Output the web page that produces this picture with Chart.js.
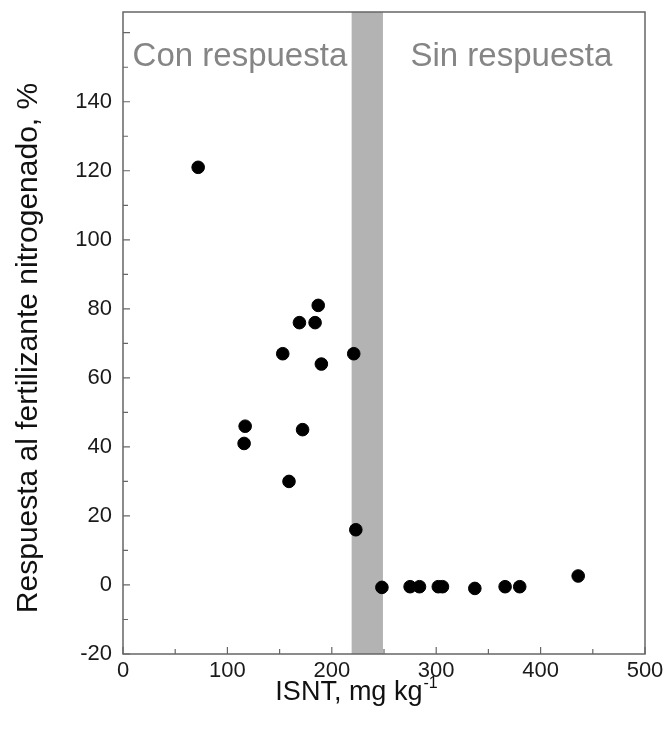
<!DOCTYPE html>
<html>
<head>
<meta charset="utf-8">
<script src="https://cdn.jsdelivr.net/npm/chart.js@4.4.0/dist/chart.umd.min.js"></script>
<style>
  html, body { margin: 0; padding: 0; background: #fff; }
  #wrap { width: 664px; height: 729px; }
</style>
</head>
<body>
<div id="wrap"><canvas id="myChart" width="664" height="729"></canvas></div>
<script>
// ISNT (mg/kg) vs response to N fertilizer (%)
const isnt = [72, 116, 117, 153, 159, 169, 172, 184, 187, 190, 221, 223,
              248, 275, 284, 302, 306, 337, 366, 380, 436];
const respuesta = [121, 41, 46, 67, 30, 76, 45, 76, 81, 64, 67, 16,
                   -0.7, -0.5, -0.5, -0.5, -0.5, -1, -0.5, -0.5, 2.6];
const xTicks = [0, 100, 200, 300, 400, 500];
const yTicks = [-20, 0, 20, 40, 60, 80, 100, 120, 140];
const bandFrom = 219, bandTo = 249;
const zoneLabels = ["Con respuesta", "Sin respuesta"];
const zoneCenters = [112, 372];

const FONT = "'Liberation Sans', Arial, sans-serif";

// shaded band, frame, inward ticks and zone labels
const decor = {
  id: "decor",
  beforeDatasetsDraw(chart) {
    const { ctx, chartArea: a, scales: { x, y } } = chart;
    ctx.save();
    ctx.fillStyle = "#b3b3b3";
    const x0 = x.getPixelForValue(bandFrom), x1 = x.getPixelForValue(bandTo);
    ctx.fillRect(x0, a.top, x1 - x0, a.bottom - a.top);

    ctx.strokeStyle = "#666";
    ctx.lineWidth = 1.5;
    ctx.strokeRect(a.left, a.top, a.right - a.left, a.bottom - a.top);

    ctx.lineWidth = 1.2;
    ctx.beginPath();
    for (let v = -20; v <= 160; v += 10) {
      const py = y.getPixelForValue(v);
      const len = v % 20 === 0 ? 7 : 5;
      ctx.moveTo(a.left, py); ctx.lineTo(a.left + len, py);
    }
    for (let v = 0; v <= 500; v += 50) {
      const px = x.getPixelForValue(v);
      const len = v % 100 === 0 ? 7 : 5;
      ctx.moveTo(px, a.bottom); ctx.lineTo(px, a.bottom - len);
    }
    ctx.stroke();

    ctx.fillStyle = "#858585";
    ctx.font = "33px " + FONT;
    ctx.textAlign = "center";
    ctx.textBaseline = "middle";
    zoneLabels.forEach((t, i) => {
      ctx.fillText(t, x.getPixelForValue(zoneCenters[i]), a.top + 45);
    });
    ctx.restore();
  },
  afterDraw(chart) {
    const { ctx } = chart;
    ctx.save();
    ctx.fillStyle = "#111";
    // y title
    ctx.font = "30px " + FONT;
    ctx.textAlign = "center";
    ctx.textBaseline = "middle";
    ctx.translate(29, 348);
    ctx.rotate(-Math.PI / 2);
    ctx.fillText("Respuesta al fertilizante nitrogenado, %", 0, 0);
    ctx.restore();

    // x title with superscript
    ctx.save();
    ctx.fillStyle = "#111";
    ctx.font = "27px " + FONT;
    ctx.textBaseline = "alphabetic";
    const main = "ISNT, mg kg";
    const w = ctx.measureText(main).width;
    ctx.font = "16px " + FONT;
    const ws = ctx.measureText("-1").width;
    const sx = 356 - (w + ws) / 2;
    ctx.font = "27px " + FONT;
    ctx.fillText(main, sx, 700);
    ctx.font = "16px " + FONT;
    ctx.fillText("-1", sx + w + 1, 688);
    ctx.restore();
  }
};

new Chart(document.getElementById("myChart").getContext("2d"), {
  type: "scatter",
  data: {
    datasets: [{
      data: isnt.map((v, i) => ({ x: v, y: respuesta[i] })),
      backgroundColor: "#000",
      borderColor: "#000",
      pointRadius: 6.3,
      pointHoverRadius: 6.3
    }]
  },
  options: {
    responsive: false,
    animation: false,
    layout: { padding: { top: 12, right: 19, left: 0, bottom: 0 } },
    plugins: { legend: { display: false }, tooltip: { enabled: false } },
    scales: {
      x: {
        type: "linear",
        min: 0, max: 500,
        afterBuildTicks: s => { s.ticks = xTicks.map(v => ({ value: v })); },
        afterFit: s => { s.height = 75; s.paddingLeft = 0; s.paddingRight = 0; },
        grid: { display: false, drawTicks: false },
        border: { display: false },
        ticks: { color: "#1a1a1a", font: { family: FONT, size: 22 }, padding: 4, maxRotation: 0 }
      },
      y: {
        type: "linear",
        min: -20, max: 166,
        afterBuildTicks: s => { s.ticks = yTicks.map(v => ({ value: v })); },
        afterFit: s => { s.width = 123; s.paddingTop = 0; s.paddingBottom = 0; },
        grid: { display: false, drawTicks: false },
        border: { display: false },
        ticks: { color: "#1a1a1a", font: { family: FONT, size: 22 }, padding: 11 }
      }
    }
  },
  plugins: [decor]
});
</script>
</body>
</html>
